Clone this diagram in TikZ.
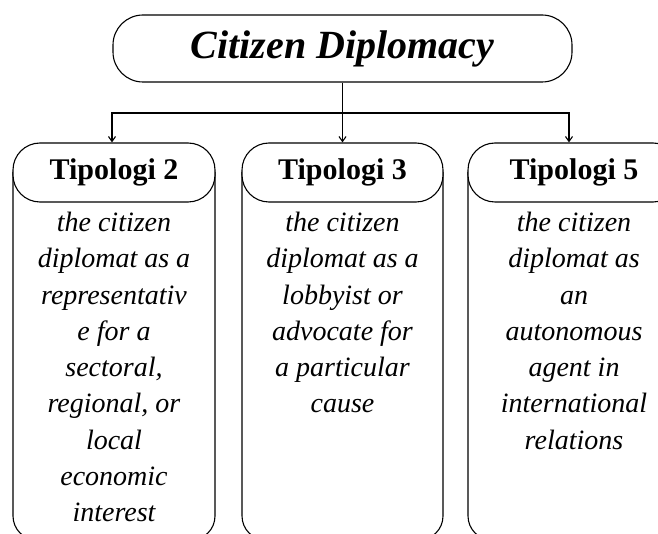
\documentclass[tikz,border=0pt]{standalone}
\usepackage{fontspec}
\setmainfont{Liberation Serif}
\usetikzlibrary{positioning,arrows.meta}

\begin{document}
\begin{tikzpicture}[x=1pt,y=-1pt,line width=1.1pt,
  rootbox/.style={draw,rounded corners=30pt,minimum width=459pt,minimum height=67pt,
    font=\fontsize{40}{44}\selectfont\bfseries\itshape},
  headbox/.style={draw,fill=white,rounded corners=27pt,minimum height=59pt,inner sep=0pt,
    font=\fontsize{30}{34}\selectfont\bfseries},
  colside/.style={draw,rounded corners=24pt},
  bodytext/.style={align=center,inner sep=0pt,font=\fontsize{28}{36.25}\selectfont\itshape},
  link/.style={-{Straight Barb[length=5pt,width=7pt]}}]
\clip (0,0) rectangle (658,534);
\useasboundingbox (0,0) rectangle (658,534);

\node[rootbox] (title) at (342.5,48.5) {Citizen Diplomacy};

% column outlines, open at the top
\draw[colside] (13,172) -- (13,540) -- (215,540) -- (215,172);
\draw[colside] (242,172) -- (242,540) -- (443,540) -- (443,172);
\draw[colside] (468,172) -- (468,540) -- (680,540) -- (680,172);

\node[headbox,minimum width=202pt] (h2) at (114,172.5) {Tipologi 2};
\node[headbox,minimum width=201pt] (h3) at (342.5,172.5) {Tipologi 3};
\node[headbox,minimum width=212pt] (h5) at (574,172.5) {Tipologi 5};

\node[bodytext,below=9pt of h2] (t2) {the citizen\\diplomat as a\\representativ\\e for a\\sectoral,\\regional, or\\local\\economic\\interest};
\node[bodytext,below=9pt of h3] (t3) {the citizen\\diplomat as a\\lobbyist or\\advocate for\\a particular\\cause};
\node[bodytext,below=9pt of h5] (t5) {the citizen\\diplomat as\\an\\autonomous\\agent in\\international\\relations};

\coordinate (split) at (342.5,113);
\draw[link] (title) -- (h3);
\draw[link] (split) -| ([xshift=-2pt]h2.north);
\draw[link] (split) -| ([xshift=-5pt]h5.north);
\end{tikzpicture}
\end{document}
